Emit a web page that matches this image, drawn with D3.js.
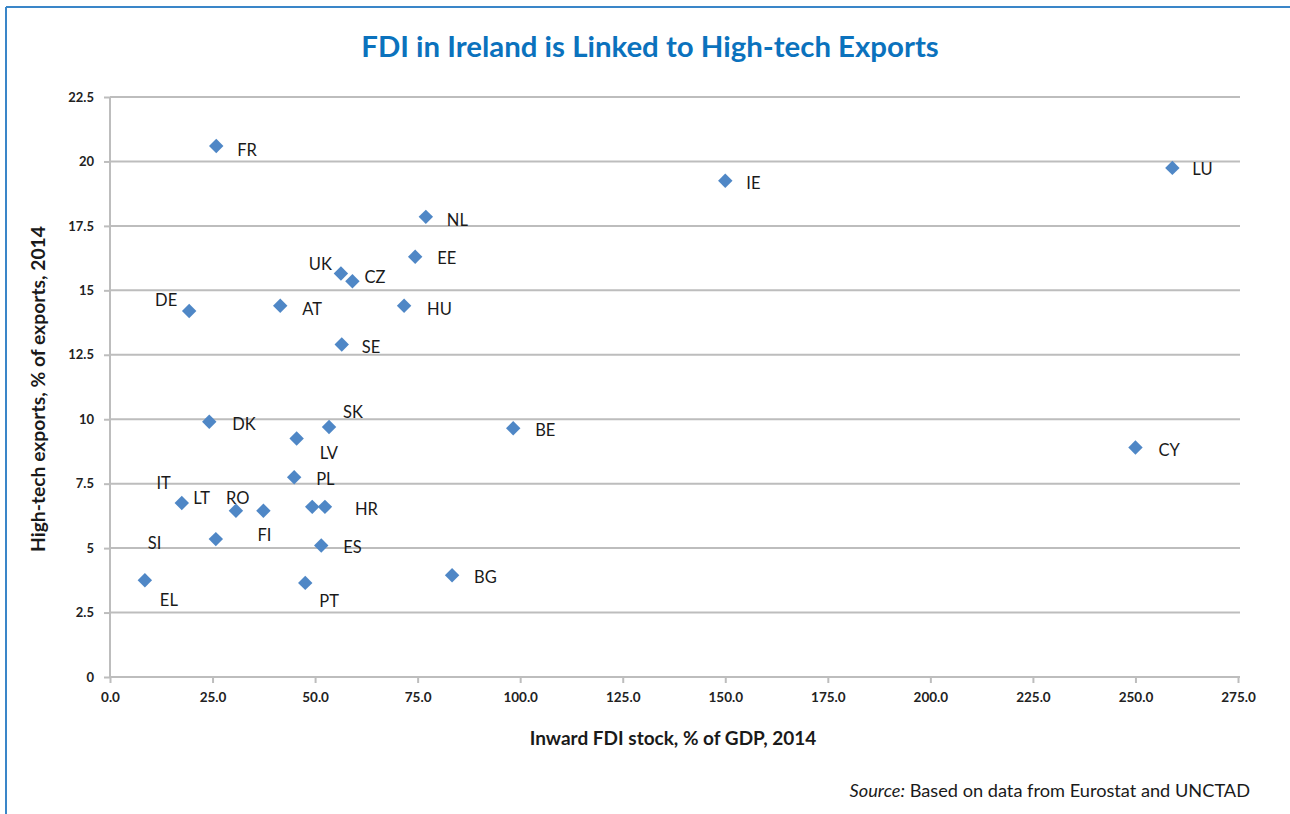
<!DOCTYPE html>
<html>
<head>
<meta charset="utf-8">
<script src="https://cdn.jsdelivr.net/npm/d3@7"></script>
<style>
  html, body { margin: 0; padding: 0; background: #ffffff; }
  svg { display: block; }
</style>
</head>
<body>
<svg id="chart" width="1290" height="814"></svg>
<script>
// ---- Data ----
const countries = ["FR","IE","LU","NL","EE","UK","CZ","DE","AT","HU","SE","DK","SK","LV","BE","CY","PL","IT","LT","RO","FI","HR","SI","ES","BG","EL","PT"];
const fdiStock = [25.9,150.0,259.0,77.0,74.4,56.3,59.1,19.3,41.5,71.7,56.5,24.2,53.4,45.5,98.3,250.0,44.9,17.5,49.3,30.7,37.4,52.4,25.8,51.5,83.4,8.5,47.6];
const hightechExports = [20.6,19.25,19.75,17.85,16.3,15.65,15.35,14.2,14.4,14.4,12.9,9.9,9.7,9.25,9.65,8.9,7.75,6.75,6.6,6.45,6.45,6.6,5.35,5.1,3.95,3.75,3.65];
const xTicks = [0,25,50,75,100,125,150,175,200,225,250,275];
const yTicks = [0,2.5,5,7.5,10,12.5,15,17.5,20,22.5];

// ---- Layout (label placement relative to each marker) ----
const labelLayout = {
  FR:{dx:21,dy:4,a:"start"}, IE:{dx:21,dy:2,a:"start"}, LU:{dx:20,dy:1,a:"start"},
  NL:{dx:21,dy:3,a:"start"}, EE:{dx:22,dy:1,a:"start"}, UK:{dx:-9,dy:-9,a:"end"},
  CZ:{dx:12,dy:-4,a:"start"}, DE:{dx:-12,dy:-11,a:"end"}, AT:{dx:22,dy:3,a:"start"},
  HU:{dx:23,dy:3,a:"start"}, SE:{dx:20,dy:3,a:"start"}, DK:{dx:23,dy:2,a:"start"},
  SK:{dx:14,dy:-15,a:"start"}, LV:{dx:23,dy:15,a:"start"}, BE:{dx:22,dy:2,a:"start"},
  CY:{dx:23,dy:3,a:"start"}, PL:{dx:22,dy:2,a:"start"}, IT:{dx:-11,dy:-20,a:"end"},
  LT:{dx:-119,dy:-9,a:"start"}, RO:{dx:-10,dy:-13,a:"start"}, FI:{dx:-6,dy:24,a:"start"},
  HR:{dx:30,dy:2,a:"start"}, SI:{dx:-68,dy:4,a:"start"}, ES:{dx:22,dy:2,a:"start"},
  BG:{dx:22,dy:2,a:"start"}, EL:{dx:15,dy:20,a:"start"}, PT:{dx:14,dy:18,a:"start"}
};

const points = countries.map((c,i)=>({c, x:fdiStock[i], y:hightechExports[i]}));

const svg = d3.select("#chart");
const FONT = "Lato, 'Open Sans', sans-serif";

// frame (top and left blue border)
svg.append("line").attr("x1",6).attr("x2",1290).attr("y1",7).attr("y2",7)
  .attr("stroke","#3a86c8").attr("stroke-width",2);
svg.append("line").attr("x1",6).attr("x2",6).attr("y1",7).attr("y2",814)
  .attr("stroke","#3a86c8").attr("stroke-width",2);

// scales
const x = d3.scaleLinear().domain([0,275]).range([110,1238]);
const y = d3.scaleLinear().domain([0,22.5]).range([677,97]);

const gridColor = "#bdbdbd";

// horizontal gridlines
svg.append("g").selectAll("line").data(yTicks.filter(t=>t>0)).join("line")
  .attr("x1",x(0)).attr("x2",x(275)+2)
  .attr("y1",d=>y(d)).attr("y2",d=>y(d))
  .attr("stroke",gridColor).attr("stroke-width",2);

// y axis
const yAxis = svg.append("g").attr("transform",`translate(${x(0)},0)`)
  .call(d3.axisLeft(y).tickValues(yTicks).tickSize(6).tickPadding(10)
    .tickFormat(d=>d3.format("")(d)));
yAxis.select(".domain").attr("stroke",gridColor).attr("stroke-width",2)
  .attr("d",`M0,${y(22.5)}V${y(0)}`);
yAxis.selectAll(".tick line").attr("stroke",gridColor).attr("stroke-width",2);
yAxis.selectAll(".tick text").attr("font-family",FONT).attr("font-size",13)
  .attr("font-weight","bold").attr("fill","#222");

// x axis
const xAxis = svg.append("g").attr("transform",`translate(0,${y(0)})`)
  .call(d3.axisBottom(x).tickValues(xTicks).tickSize(6).tickPadding(9)
    .tickFormat(d3.format(".1f")));
xAxis.select(".domain").attr("stroke",gridColor).attr("stroke-width",2)
  .attr("d",`M${x(0)},0H${x(275)+2}`);
xAxis.selectAll(".tick line").attr("stroke",gridColor).attr("stroke-width",2);
xAxis.selectAll(".tick text").attr("font-family",FONT).attr("font-size",13.5)
  .attr("font-weight","bold").attr("fill","#222");

// markers
const diamond = d3.symbol().type(d3.symbolSquare).size(104);
svg.append("g").selectAll("path").data(points).join("path")
  .attr("d",diamond)
  .attr("transform",d=>`translate(${x(d.x)},${y(d.y)}) rotate(45)`)
  .attr("fill","#4f87c6");

// labels
svg.append("g").selectAll("text").data(points).join("text")
  .attr("x",d=>x(d.x)+labelLayout[d.c].dx)
  .attr("y",d=>y(d.y)+labelLayout[d.c].dy)
  .attr("dy","0.35em")
  .attr("text-anchor",d=>labelLayout[d.c].a)
  .attr("font-family",FONT).attr("font-size",16.5)
  .attr("fill","#1a1a1a")
  .text(d=>d.c);

// title
svg.append("text").attr("x",650).attr("y",47).attr("dy","0.35em")
  .attr("text-anchor","middle").attr("font-family",FONT)
  .attr("font-size",29.4).attr("font-weight","bold").attr("fill","#0b72bd")
  .text("FDI in Ireland is Linked to High-tech Exports");

// axis titles
svg.append("text").attr("x",673).attr("y",738).attr("dy","0.35em")
  .attr("text-anchor","middle").attr("font-family",FONT)
  .attr("font-size",19).attr("font-weight","bold").attr("fill","#1a1a1a")
  .text("Inward FDI stock, % of GDP, 2014");

svg.append("text").attr("transform","translate(38,389) rotate(-90)").attr("dy","0.35em")
  .attr("text-anchor","middle").attr("font-family",FONT)
  .attr("font-size",19.3).attr("font-weight","bold").attr("fill","#1a1a1a")
  .text("High-tech exports, % of exports, 2014");

// source
const src = svg.append("text").attr("x",1250).attr("y",791).attr("dy","0.35em")
  .attr("text-anchor","end").attr("font-family",FONT)
  .attr("font-size",18.2).attr("fill","#1a1a1a");
src.append("tspan").attr("font-style","italic").text("Source:");
src.append("tspan").text(" Based on data from Eurostat and UNCTAD");
</script>
</body>
</html>
